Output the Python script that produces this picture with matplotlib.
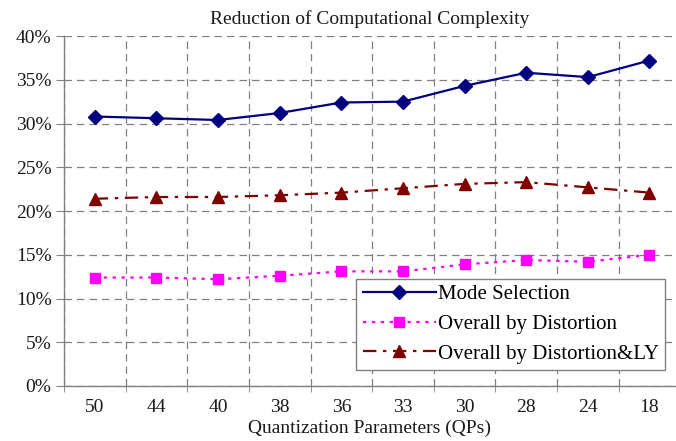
import matplotlib
matplotlib.use("Agg")
import matplotlib.pyplot as plt
from matplotlib.ticker import FuncFormatter, FixedLocator

qps = ["50", "44", "40", "38", "36", "33", "30", "28", "24", "18"]
mode_selection = [30.8, 30.6, 30.4, 31.2, 32.4, 32.5, 34.3, 35.8, 35.3, 37.2]
overall_distortion = [12.4, 12.4, 12.2, 12.6, 13.1, 13.1, 13.9, 14.4, 14.2, 15.0]
overall_distortion_ly = [21.4, 21.6, 21.6, 21.8, 22.1, 22.6, 23.1, 23.3, 22.7, 22.1]

plt.rcParams['font.family'] = ['Liberation Serif', 'DejaVu Serif']

fig = plt.figure(figsize=(6.76, 4.41), dpi=100)
ax = fig.add_axes([64/676, 1-386/441, 1-64/676, (386-36)/441])

x = list(range(len(qps)))
ax.plot(x, mode_selection, color='#000080', marker='D', markersize=7, lw=1.6,
        label='Mode Selection')
ax.plot(x, overall_distortion, color='#FF00FF', marker='s', markersize=7, lw=1.6,
        linestyle=(0, (1.5, 2.5)), label='Overall by Distortion')
ax.plot(x, overall_distortion_ly, color='#800000', marker='^', markersize=8, lw=1.6,
        linestyle=(0, (6, 3, 1.5, 3)), label='Overall by Distortion&LY')

ax.set_xlim(-0.5, 9.43)
ax.set_ylim(0, 40)
ax.set_xticks(x)
ax.set_xticklabels(qps)
ax.xaxis.set_minor_locator(FixedLocator([i + 0.5 for i in range(-1, 10)]))
ax.set_yticks(range(0, 41, 5))
ax.yaxis.set_major_formatter(FuncFormatter(lambda v, p: f"{int(v)}%"))

ax.tick_params(axis='x', which='major', length=0, labelsize=14, pad=9, colors='#1a1a1a')
ax.tick_params(axis='x', which='minor', length=8, direction='inout', color='#808080')
ax.tick_params(axis='y', which='major', length=6, direction='out', color='#808080',
               labelsize=14, colors='#1a1a1a', pad=3)
ax.tick_params(axis='y', which='major', color='#808080')

for s in ['top', 'right']:
    ax.spines[s].set_visible(False)
for s in ['left', 'bottom']:
    ax.spines[s].set_color('#808080')
    ax.spines[s].set_linewidth(1.0)

ax.grid(True, axis='y', which='major', linestyle=(0, (6, 4)), color='#808080', lw=0.9)
ax.grid(True, axis='x', which='minor', linestyle=(0, (6, 4)), color='#808080', lw=0.9)
ax.set_axisbelow(True)

ax.set_title('Reduction of Computational Complexity', fontsize=14, pad=9, color='#1a1a1a')
ax.set_xlabel('Quantization Parameters (QPs)', fontsize=14, labelpad=3, color='#1a1a1a')

leg = ax.legend(loc='lower right', bbox_to_anchor=(0.982, 0.046), fontsize=15,
                frameon=True, fancybox=False, edgecolor='#808080', framealpha=1,
                handlelength=3.5, handletextpad=0.1, labelspacing=0.48,
                borderpad=0.3, borderaxespad=0)
leg.get_frame().set_linewidth(1.0)

fig.savefig('out.png', dpi=100)
